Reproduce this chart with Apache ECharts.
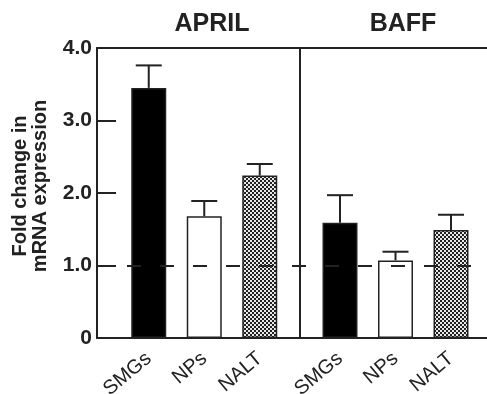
<!DOCTYPE html>
<html>
<head>
<meta charset="utf-8">
<script src="https://cdn.jsdelivr.net/npm/echarts@6/dist/echarts.min.js"></script>
<style>
  html, body { margin: 0; padding: 0; background: #fff; }
  #chart { width: 487px; height: 394px; }
</style>
</head>
<body>
<div id="chart"></div>
<script>
// data
var categories = ['SMGs', 'NPs', 'NALT'];
var aprilMean = [3.45, 1.68, 2.24];
var aprilUpper = [3.76, 1.89, 2.40];
var baffMean = [1.59, 1.07, 1.49];
var baffUpper = [1.97, 1.19, 1.70];
var yTicks = ['0', '1.0', '2.0', '3.0', '4.0'];
var panelTitles = ['APRIL', 'BAFF'];

var FONT = 'Liberation Sans, Arial, sans-serif';
var INK = '#222';

// fine checker fill for NALT
var cv = document.createElement('canvas');
cv.width = 4; cv.height = 4;
var cx = cv.getContext('2d');
cx.fillStyle = '#e8e8e8'; cx.fillRect(0, 0, 4, 4);
cx.fillStyle = '#222';
cx.fillRect(0, 0, 2, 2); cx.fillRect(2, 2, 2, 2);
var checker = { image: cv, repeat: 'repeat' };

var fills = ['#000', '#fff', checker];

function barData(vals) {
    return vals.map(function (v, i) {
        return { value: v, itemStyle: { color: fills[i] } };
    });
}

function errData(mean, upper) {
    return mean.map(function (m, i) { return [i, m, upper[i]]; });
}

function renderErr(params, api) {
    var lo = api.coord([api.value(0), api.value(1)]);
    var hi = api.coord([api.value(0), api.value(2)]);
    var half = 13;
    var st = { stroke: INK, lineWidth: 2 };
    return {
        type: 'group',
        children: [
            { type: 'line', shape: { x1: lo[0], y1: lo[1], x2: hi[0], y2: hi[1] }, style: st },
            { type: 'line', shape: { x1: hi[0] - half, y1: hi[1], x2: hi[0] + half, y2: hi[1] }, style: st }
        ]
    };
}

var myChart = echarts.init(document.getElementById('chart'));

var catAxisLabel = {
    rotate: 40,
    fontSize: 20,
    fontFamily: FONT,
    color: INK,
    margin: 18
};

var option = {
    animation: false,
    textStyle: { fontFamily: FONT },
    title: [
        { text: panelTitles[0], left: 207, top: 7, textAlign: 'center',
          textStyle: { fontSize: 25, fontWeight: 'bold', color: INK, fontFamily: FONT } },
        { text: panelTitles[1], left: 398, top: 7, textAlign: 'center',
          textStyle: { fontSize: 25, fontWeight: 'bold', color: INK, fontFamily: FONT } }
    ],
    grid: [
        { left: 97, right: -5, top: 48, bottom: 56, outerBoundsMode: 'none' },
        { left: 121, right: 199.5, top: 48, bottom: 56, outerBoundsMode: 'none' },
        { left: 312.25, right: 8.25, top: 48, bottom: 56, outerBoundsMode: 'none' }
    ],
    xAxis: [
        { gridIndex: 0, type: 'category', data: [''], position: 'bottom',
          axisLine: { lineStyle: { color: INK, width: 2 } },
          axisTick: { show: false }, axisLabel: { show: false } },
        { gridIndex: 0, type: 'category', data: [''], position: 'top',
          axisLine: { lineStyle: { color: INK, width: 2 } },
          axisTick: { show: false }, axisLabel: { show: false } },
        { gridIndex: 1, type: 'category', data: categories,
          axisLine: { show: false }, axisTick: { show: false }, axisLabel: catAxisLabel },
        { gridIndex: 2, type: 'category', data: categories,
          axisLine: { show: false }, axisTick: { show: false }, axisLabel: catAxisLabel }
    ],
    yAxis: [
        { gridIndex: 0, type: 'value', min: 0, max: 4, interval: 1,
          name: 'Fold change in\nmRNA expression',
          nameLocation: 'middle', nameGap: 47, nameRotate: 90,
          nameTextStyle: { fontSize: 20, fontWeight: 'bold', color: INK, lineHeight: 20,
                           fontFamily: FONT, padding: [0, 0, 0, 14] },
          axisLine: { show: true, lineStyle: { color: INK, width: 2 } },
          axisTick: { show: true, inside: true, length: 19, lineStyle: { color: INK, width: 2 } },
          axisLabel: { margin: 5, fontSize: 21, fontWeight: 'bold', color: INK, fontFamily: FONT,
                       formatter: function (v) { return yTicks[Math.round(v)]; } },
          splitLine: { show: false } },
        { gridIndex: 1, type: 'value', min: 0, max: 4, show: false },
        { gridIndex: 2, type: 'value', min: 0, max: 4, offset: 13,
          axisLine: { show: true, lineStyle: { color: INK, width: 2 } },
          axisTick: { show: false }, axisLabel: { show: false }, splitLine: { show: false } }
    ],
    series: [
        { type: 'bar', xAxisIndex: 2, yAxisIndex: 1, barWidth: 35,
          itemStyle: { borderColor: INK, borderWidth: 1.5 },
          data: barData(aprilMean) },
        { type: 'custom', xAxisIndex: 2, yAxisIndex: 1, renderItem: renderErr,
          data: errData(aprilMean, aprilUpper), z: 1 },
        { type: 'bar', xAxisIndex: 3, yAxisIndex: 2, barWidth: 35,
          itemStyle: { borderColor: INK, borderWidth: 1.5 },
          data: barData(baffMean) },
        { type: 'custom', xAxisIndex: 3, yAxisIndex: 2, renderItem: renderErr,
          data: errData(baffMean, baffUpper), z: 1 },
        { type: 'line', xAxisIndex: 0, yAxisIndex: 0, data: [null], z: 10,
          symbol: 'none', silent: true,
          markLine: {
              silent: true, symbol: 'none', label: { show: false },
              lineStyle: { color: INK, width: 2, type: [14, 19], dashOffset: 3 },
              data: [{ yAxis: 1 }]
          } }
    ]
};

myChart.setOption(option);
</script>
</body>
</html>
